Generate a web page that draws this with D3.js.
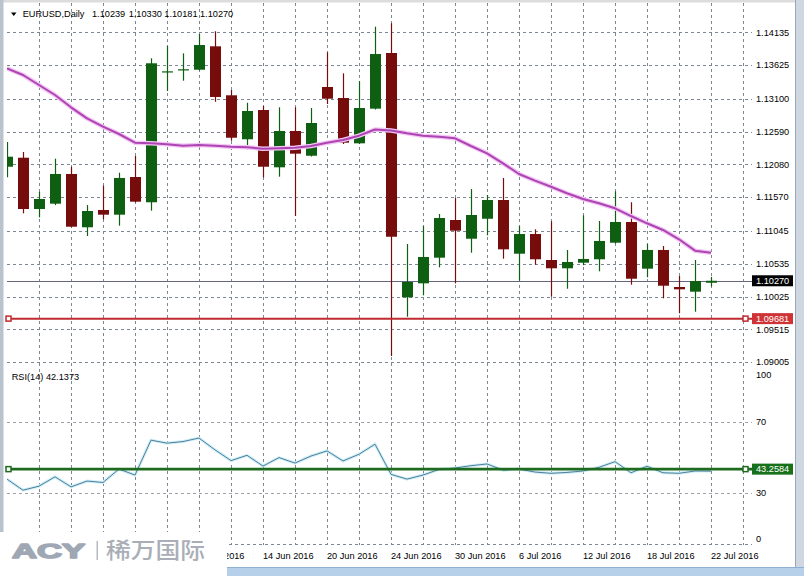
<!DOCTYPE html>
<html>
<head>
<meta charset="utf-8">
<script src="https://cdn.jsdelivr.net/npm/d3@7/dist/d3.min.js"></script>
<style>
html,body{margin:0;padding:0;background:#fff;}
svg{display:block;}
text{font-family:"Liberation Sans",Arial,sans-serif;font-size:9.2px;fill:#000;}
</style>
</head>
<body>
<svg id="chart" width="804" height="576"></svg>
<script>
// ---------- DATA ----------
const dates = ["2016-05-23","2016-05-24","2016-05-25","2016-05-26","2016-05-27","2016-05-30","2016-05-31",
"2016-06-01","2016-06-02","2016-06-03","2016-06-06","2016-06-07","2016-06-08","2016-06-09","2016-06-10",
"2016-06-13","2016-06-14","2016-06-15","2016-06-16","2016-06-17","2016-06-20","2016-06-21","2016-06-22",
"2016-06-23","2016-06-24","2016-06-27","2016-06-28","2016-06-29","2016-06-30","2016-07-01","2016-07-04",
"2016-07-05","2016-07-06","2016-07-07","2016-07-08","2016-07-11","2016-07-12","2016-07-13","2016-07-14",
"2016-07-15","2016-07-18","2016-07-19","2016-07-20","2016-07-21","2016-07-22"];
const open  = [1.12044,1.12184,1.11386,1.11469,1.11931,1.11102,1.11371,1.11298,1.11884,1.11491,1.13528,1.13545,1.13553,1.13917,1.13155,1.12471,1.12926,1.12035,1.12600,1.12215,1.13284,1.13113,1.12408,1.12947,1.13813,1.10013,1.10230,1.10629,1.11215,1.10924,1.11235,1.11526,1.10691,1.10997,1.10593,1.10464,1.10551,1.10604,1.10862,1.11184,1.10458,1.10749,1.10173,1.10100,1.10239];
const high  = [1.12429,1.12273,1.11655,1.12169,1.12044,1.11448,1.11749,1.11951,1.12211,1.13731,1.13922,1.13808,1.14109,1.14151,1.13237,1.13040,1.12989,1.12968,1.12968,1.12957,1.13824,1.13497,1.13377,1.14222,1.14275,1.10842,1.11122,1.11309,1.11557,1.11697,1.11604,1.11869,1.11122,1.11070,1.11195,1.10749,1.11288,1.11200,1.11662,1.11491,1.10842,1.10811,1.10344,1.10593,1.10330];
const low   = [1.11879,1.11319,1.11257,1.11448,1.11102,1.10966,1.11226,1.11127,1.11488,1.11360,1.13222,1.13382,1.13541,1.13055,1.12449,1.12315,1.11879,1.11889,1.11277,1.12203,1.13020,1.12397,1.12397,1.12934,1.09100,1.09711,1.10044,1.10479,1.10230,1.10707,1.10977,1.10613,1.10271,1.10520,1.10022,1.10146,1.10511,1.10417,1.10850,1.10209,1.10324,1.09997,1.09764,1.09789,1.10181];
const close = [1.12200,1.11386,1.11542,1.11931,1.11111,1.11355,1.11298,1.11869,1.11500,1.13653,1.13528,1.13560,1.13937,1.13129,1.12495,1.12911,1.12044,1.12600,1.12247,1.12724,1.13102,1.12418,1.12957,1.13797,1.10955,1.10251,1.10640,1.11246,1.11049,1.11293,1.11526,1.10759,1.10997,1.10604,1.10464,1.10562,1.10609,1.10889,1.11184,1.10302,1.10749,1.10193,1.10137,1.10266,1.10270];
const ma    = [1.13575,1.13471,1.13315,1.13160,1.12968,1.12797,1.12667,1.12553,1.12418,1.12408,1.12393,1.12371,1.12382,1.12371,1.12355,1.12346,1.12324,1.12331,1.12340,1.12366,1.12418,1.12460,1.12527,1.12623,1.12607,1.12564,1.12527,1.12511,1.12486,1.12366,1.12253,1.12097,1.11931,1.11827,1.11733,1.11631,1.11542,1.11475,1.11397,1.11277,1.11164,1.11060,1.10915,1.10738,1.10707];
const rsi   = [37.6,31.3,33.6,38.9,33.2,36.5,35.7,43.3,39.9,59.7,58.0,58.9,60.9,54.2,48.1,51.1,45.0,49.8,46.7,50.7,53.6,47.9,51.7,57.4,40.3,37.6,39.9,43.1,43.9,45.2,46.2,42.7,43.3,41.6,40.9,41.4,42.2,44.3,47.5,41.2,44.9,41.2,40.9,42.2,42.1373];
const priceTicks = [1.14135,1.13625,1.13100,1.12590,1.12080,1.11570,1.11045,1.10535,1.10025,1.09515,1.09005];
const rsiTicks = [70,30];
const rsiEdgeLabels = ["100","0"];
const dateLabelIdx = [12,16,20,24,28,32,36,40,44];
const bidPrice = 1.10270;
const hLinePrice = 1.09681;
const rsiLevel = 43.2584;
const titleParts = ["EURUSD,Daily","1.10239","1.10330","1.10181","1.10270"];
const rsiTitle = "RSI(14) 42.1373";

// ---------- SCALES ----------
const svg = d3.select("#chart");
const N = dates.length;
const parse = d3.timeParse("%Y-%m-%d");
const fmt = d3.timeFormat("%-d %b %Y");
const x = d3.scaleLinear().domain([0, 44]).range([7, 711]);
const y = d3.scaleLinear().domain([1.09515, 1.14135]).range([329.3, 32.3]);
const ry = d3.scaleLinear().domain([0, 100]).range([545.4, 369.1]);
const plotRight = 752;

const gridColor = "#7d8794";
const green = "#0f5f12", red = "#760c0c";

svg.append("rect").attr("x",0).attr("y",0).attr("width",804).attr("height",576).attr("fill","#fff");

const defs = svg.append("defs");
defs.append("clipPath").attr("id","mainClip").append("rect").attr("x",7).attr("y",3).attr("width",plotRight-7).attr("height",364);
defs.append("clipPath").attr("id","rsiClip").append("rect").attr("x",7).attr("y",368).attr("width",plotRight-7).attr("height",178);
defs.append("clipPath").attr("id","dateClip").append("rect").attr("x",227).attr("y",540).attr("width",570).attr("height",30);

// vertical grid
const vIdx = d3.range(2, 47, 2);
svg.append("g").selectAll("line").data(vIdx).join("line")
  .attr("x1", d => Math.round(x(d)) + 0.5).attr("x2", d => Math.round(x(d)) + 0.5)
  .attr("y1", 3).attr("y2", 545)
  .attr("stroke", gridColor).attr("stroke-width",1).attr("stroke-dasharray","3,3");

// horizontal grid main
svg.append("g").selectAll("line").data(priceTicks).join("line")
  .attr("x1", 7).attr("x2", plotRight)
  .attr("y1", d => Math.round(y(d)) + 0.5).attr("y2", d => Math.round(y(d)) + 0.5)
  .attr("stroke", gridColor).attr("stroke-dasharray","3,3");

// rsi levels + bottom line
svg.append("g").selectAll("line").data(rsiTicks).join("line")
  .attr("x1", 7).attr("x2", plotRight)
  .attr("y1", d => Math.round(ry(d)) + 0.5).attr("y2", d => Math.round(ry(d)) + 0.5)
  .attr("stroke", "#a2a2a8").attr("stroke-dasharray","3,3");
svg.append("line").attr("x1",7).attr("x2",plotRight)
  .attr("y1", Math.round(ry(0)) - 0.5).attr("y2", Math.round(ry(0)) - 0.5)
  .attr("stroke", gridColor).attr("stroke-dasharray","3,3");

// main panel
const main = svg.append("g").attr("clip-path","url(#mainClip)");

main.append("line").attr("x1",7).attr("x2",plotRight)
  .attr("y1", Math.round(y(bidPrice)) + 0.5).attr("y2", Math.round(y(bidPrice)) + 0.5)
  .attr("stroke","#66667e").attr("stroke-width",1);

const bars = d3.range(N).map(i => ({i, o: open[i], h: high[i], l: low[i], c: close[i]}));
const cg = main.append("g");
cg.selectAll("line.wick").data(bars).join("line").attr("class","wick")
  .attr("x1", d => Math.round(x(d.i)) + 0.5).attr("x2", d => Math.round(x(d.i)) + 0.5)
  .attr("y1", d => y(d.h)).attr("y2", d => y(d.l))
  .attr("stroke", d => d.c >= d.o ? green : red).attr("stroke-width",1.2);
cg.selectAll("rect.body").data(bars).join("rect").attr("class","body")
  .attr("x", d => Math.round(x(d.i)) - 5)
  .attr("width", 11)
  .attr("y", d => Math.min(y(d.o), y(d.c)))
  .attr("height", d => Math.max(1.2, Math.abs(y(d.o) - y(d.c))))
  .attr("fill", d => d.c >= d.o ? green : red);

const maLine = d3.line().x((d,i) => x(i)).y(d => y(d));
main.append("path").attr("d", maLine(ma)).attr("fill","none")
  .attr("stroke","#f3c6f3").attr("stroke-width",4.5).attr("stroke-linejoin","round");
main.append("path").attr("d", maLine(ma)).attr("fill","none")
  .attr("stroke","#ad44b3").attr("stroke-width",2).attr("stroke-linejoin","round");

const yH = y(hLinePrice);
svg.append("line").attr("x1",7).attr("x2",plotRight).attr("y1",yH).attr("y2",yH)
  .attr("stroke","#bf2b2f").attr("stroke-width",2);
[8.5, 745.5].forEach(px => {
  svg.append("rect").attr("x",px-2.5).attr("y",yH-2.5).attr("width",5).attr("height",5)
    .attr("fill","#fff").attr("stroke","#bf2b2f").attr("stroke-width",1.5);
});

// RSI panel
const rsiG = svg.append("g").attr("clip-path","url(#rsiClip)");
const rLine = d3.line().x((d,i) => x(i)).y(d => ry(d));
rsiG.append("path").attr("d", rLine(rsi)).attr("fill","none")
  .attr("stroke","#cdeef6").attr("stroke-width",3);
rsiG.append("path").attr("d", rLine(rsi)).attr("fill","none")
  .attr("stroke","#4f7f9c").attr("stroke-width",1);

const yL = ry(rsiLevel);
svg.append("line").attr("x1",7).attr("x2",plotRight).attr("y1",yL).attr("y2",yL)
  .attr("stroke","#1e6a1e").attr("stroke-width",2.6);
[8.5, 745.5].forEach(px => {
  svg.append("rect").attr("x",px-2.5).attr("y",yL-2.5).attr("width",5).attr("height",5)
    .attr("fill","#fff").attr("stroke","#1e6a1e").attr("stroke-width",1.5);
});

// right axis labels
svg.append("g").selectAll("text").data(priceTicks).join("text")
  .attr("x", 756).attr("y", d => y(d) + 3.3).text(d => d.toFixed(5));
svg.append("g").selectAll("text").data(rsiTicks).join("text")
  .attr("x", 756).attr("y", d => ry(d) + 3.3).text(d => d);
svg.append("text").attr("x",756).attr("y", ry(100) + 9.2).text(rsiEdgeLabels[0]);
svg.append("text").attr("x",756).attr("y", ry(0) - 3.6).text(rsiEdgeLabels[1]);

function valueBox(yy, bg, label) {
  svg.append("rect").attr("x",752).attr("y",yy-5.5).attr("width",41).attr("height",11).attr("fill",bg);
  svg.append("text").attr("x",756).attr("y",yy+3.3).style("fill","#fff").text(label);
}
valueBox(y(bidPrice), "#000", bidPrice.toFixed(5));
valueBox(yH, "#cf3336", hLinePrice.toFixed(5));
valueBox(yL, "#17701a", rsiLevel.toFixed(4));

// date labels (the first one is partly hidden behind the logo, as in the reference)
svg.append("g").attr("clip-path","url(#dateClip)").selectAll("text").data(dateLabelIdx).join("text")
  .attr("x", d => x(d)).attr("y", 558.5).text(d => fmt(parse(dates[d])));

// title
svg.append("path").attr("d","M11,12.5 L16.5,12.5 L13.75,16 Z").attr("fill","#000");
const tX = [22.7, 92, 128.7, 164.3, 200];
svg.append("g").selectAll("text").data(titleParts).join("text")
  .attr("x", (d,i) => tX[i]).attr("y", 17.3).text(d => d);
svg.append("text").attr("x", 11.7).attr("y", 380).text(rsiTitle);

// window frame
svg.append("rect").attr("x",0).attr("y",0).attr("width",804).attr("height",2.5).attr("fill","#dcdcdc");
svg.append("rect").attr("x",0).attr("y",0).attr("width",3.5).attr("height",576).attr("fill","#b9c3cd");
svg.append("rect").attr("x",795).attr("y",0).attr("width",9).attr("height",576).attr("fill","#cfd8e2");
svg.append("rect").attr("x",795).attr("y",0).attr("width",1).attr("height",576).attr("fill","#9aa8b6");
svg.append("rect").attr("x",0).attr("y",567).attr("width",804).attr("height",9).attr("fill","#b7d0ea");
svg.append("rect").attr("x",0).attr("y",567).attr("width",804).attr("height",1).attr("fill","#8fb0d0");

// logo
svg.append("rect").attr("x",0).attr("y",532).attr("width",227).attr("height",44).attr("fill","#fff");
svg.append("text").attr("x",12).attr("y",558)
  .attr("textLength",73).attr("lengthAdjust","spacingAndGlyphs")
  .style("font-size","21px").style("font-weight","900").style("fill","#9ea7b3")
  .style("stroke","#9ea7b3").style("stroke-width","1.6").style("stroke-linejoin","round").text("ACY");
svg.append("rect").attr("x",96.5).attr("y",541).attr("width",1.5).attr("height",19).attr("fill","#b5bac2");
svg.append("text").attr("x",106).attr("y",557.5)
  .attr("textLength",99).attr("lengthAdjust","spacingAndGlyphs")
  .style("font-family","'Noto Sans CJK SC',sans-serif").style("font-size","22px").style("font-weight","500")
  .style("fill","#a9aeb7").text("稀万国际");
</script>
</body>
</html>
